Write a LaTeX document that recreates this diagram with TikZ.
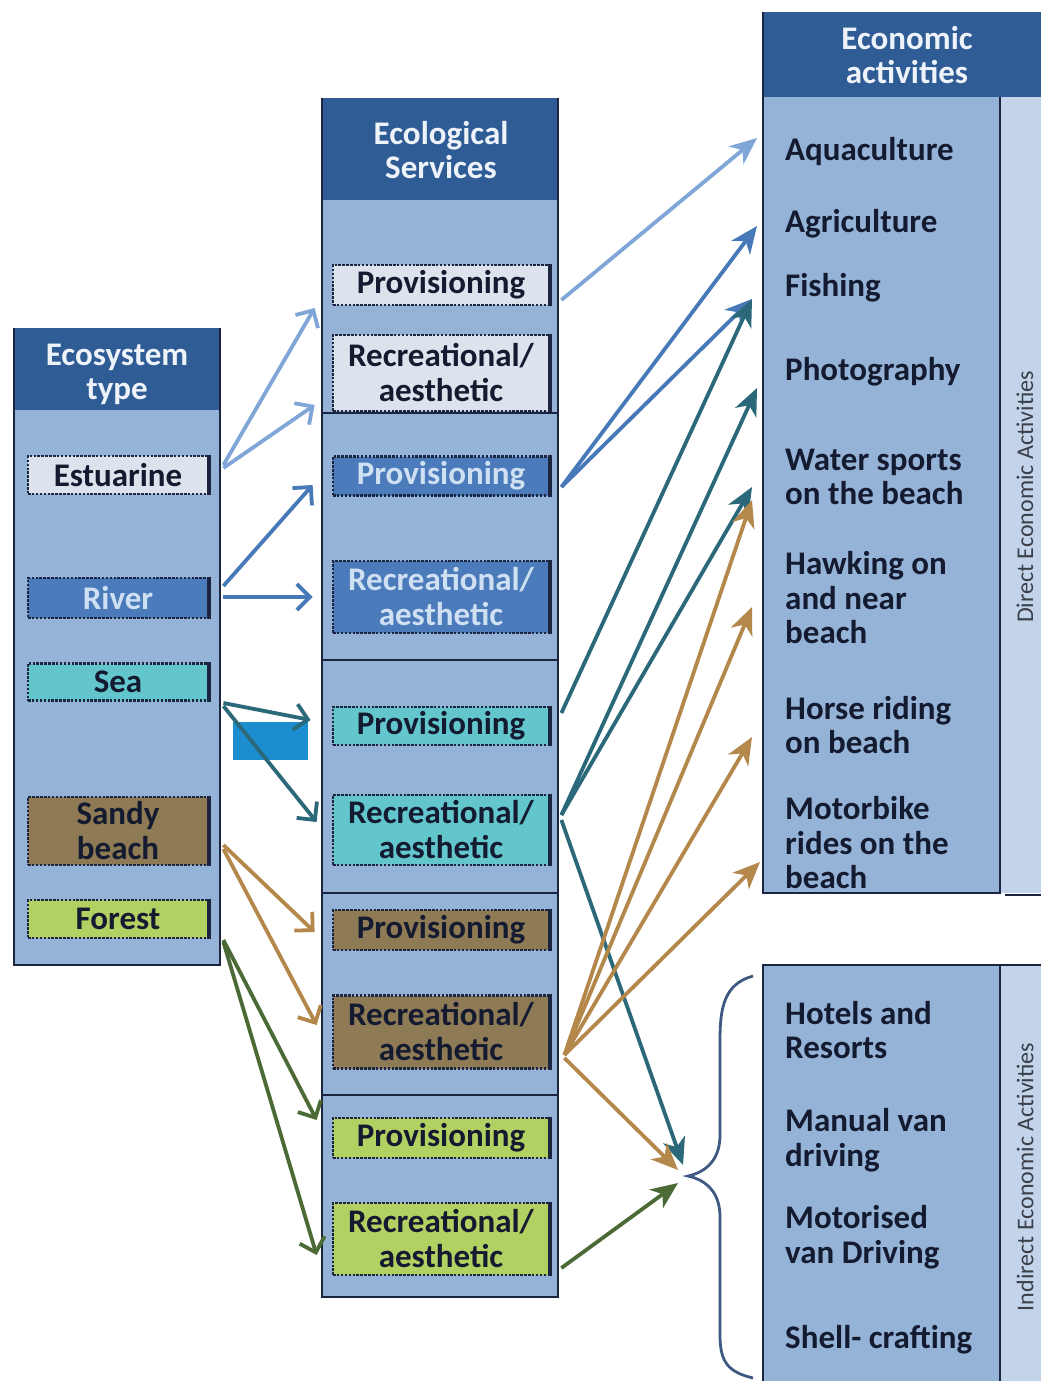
\documentclass[tikz,border=0pt]{standalone}
\usepackage{fontspec}
\setmainfont{Carlito}
\usetikzlibrary{arrows.meta,calc}

% palette
\definecolor{hdr}{HTML}{2F5C95}
\definecolor{hdrtext}{HTML}{EEF3FA}
\definecolor{body}{HTML}{95B3D7}
\definecolor{strip}{HTML}{C3D4EA}
\definecolor{frame}{HTML}{1C2540}
\definecolor{ink}{HTML}{141B30}
\definecolor{sidetext}{HTML}{3A3F4A}
\definecolor{estF}{HTML}{DCE3EC}
\definecolor{rivF}{HTML}{4B7BBA}
\definecolor{rivT}{HTML}{CFE0F2}
\definecolor{seaF}{HTML}{62C6CC}
\definecolor{sandF}{HTML}{8E7A55}
\definecolor{forF}{HTML}{B3D062}
\definecolor{estA}{HTML}{7FA6D7}
\definecolor{rivA}{HTML}{4779B8}
\definecolor{seaA}{HTML}{2B6879}
\definecolor{sandA}{HTML}{B4874A}
\definecolor{forA}{HTML}{4B6A36}
\definecolor{braceC}{HTML}{3E5A82}
\definecolor{spot}{HTML}{1C8ED0}

\tikzset{
  colhead/.style={text=hdrtext, font=\fontsize{33}{34}\selectfont\bfseries, align=center, inner sep=0pt},
  boxbase/.style={draw=frame, line width=2.8pt, dash pattern=on 2.5pt off 1.4pt, align=center,
                  inner sep=0pt, font=\fontsize{33}{35}\selectfont\bfseries, text=ink},
  ecobox/.style={boxbase, minimum width=180pt},
  svcbox/.style={boxbase, minimum width=216pt},
  act/.style={anchor=west, align=left, inner sep=0pt, font=\fontsize{33}{34.5}\selectfont\bfseries, text=ink},
  side/.style={rotate=90, inner sep=0pt, font=\fontsize{24}{26}\selectfont, text=sidetext},
  colframe/.style={draw=frame, line width=2.5pt},
  lk/.style={line width=3.8pt, -{Straight Barb[length=13pt,width=26pt,line width=3.8pt]}},
  rk/.style={line width=3.8pt, -{Stealth[length=27pt,width=23pt,inset=8pt]}}
}

\begin{document}
\begin{tikzpicture}[x=1pt,y=-1pt]
\useasboundingbox (0,0) rectangle (1041,1381);
\fill[white] (0,0) rectangle (1041,1381);

% ---- column: ecosystem type
\fill[body] (14,410) rectangle (220,965);
\fill[hdr] (14,328) rectangle (220,410);
\draw[colframe] (14,328) -- (14,965) -- (220,965) -- (220,328);
\node[colhead] (ecoH) at (117,374) {Ecosystem\\type};

% ---- column: ecological services
\fill[body] (322,200) rectangle (558,1297);
\fill[hdr] (322,98) rectangle (558,200);
\draw[colframe] (322,98) -- (322,1297) -- (558,1297) -- (558,98);
\foreach \yy in {413,660,893,1095} \draw[colframe] (322,\yy) -- (558,\yy);
\node[colhead] (svcH) at (441,150) {Ecological\\Services};

% ---- column: economic activities
\fill[hdr] (763,12) rectangle (1041,97);
\fill[body] (763,97) rectangle (1000,893);
\fill[strip] (1000,97) rectangle (1041,893);
\fill[body] (763,965) rectangle (1000,1381);
\fill[strip] (1000,965) rectangle (1041,1381);
\draw[colframe] (763,12) -- (763,893) -- (1000,893) -- (1000,97);
\draw[colframe] (1005,895) -- (1041,895);
\draw[colframe] (763,1381) -- (763,965) -- (1041,965);
\draw[colframe] (1000,965) -- (1000,1381);
\node[colhead] (actH) at (907,55) {Economic\\activities};
\node[side] (directL) at (1025,497) {Direct Economic Activities};
\node[side] (indirectL) at (1025,1177) {Indirect Economic Activities};

% ---- ecosystem boxes
\node[ecobox, fill=estF, minimum height=38pt] (est) at (118,475) {Estuarine};
\node[ecobox, fill=rivF, minimum height=40pt, text=rivT] (riv) at (118,598) {River};
\node[ecobox, fill=seaF, minimum height=37pt] (sea) at (118,682) {Sea};
\node[ecobox, fill=sandF, minimum height=68pt] (sand) at (118,831) {Sandy\\beach};
\node[ecobox, fill=forF, minimum height=38pt] (fore) at (118,919) {Forest};

% ---- service boxes
\node[svcbox, fill=estF, minimum height=40pt] (pe) at (441,285) {Provisioning};
\node[svcbox, fill=estF, minimum height=76pt] (re) at (441,373) {Recreational/\\aesthetic};
\node[svcbox, fill=rivF, minimum height=39pt, text=rivT] (pr) at (441,476) {Provisioning};
\node[svcbox, fill=rivF, minimum height=72pt, text=rivT] (rr) at (441,597) {Recreational/\\aesthetic};
\node[svcbox, fill=seaF, minimum height=38pt] (ps) at (441,726) {Provisioning};
\node[svcbox, fill=seaF, minimum height=70pt] (rs) at (441,830) {Recreational/\\aesthetic};
\node[svcbox, fill=sandF, minimum height=40pt] (psd) at (441,930) {Provisioning};
\node[svcbox, fill=sandF, minimum height=73pt] (rsd) at (441,1032) {Recreational/\\aesthetic};
\node[svcbox, fill=forF, minimum height=40pt] (pf) at (441,1138) {Provisioning};
\node[svcbox, fill=forF, minimum height=72pt] (rf) at (441,1239) {Recreational/\\aesthetic};

% heavy right edge on every box
\foreach \n in {est,riv,sea,sand,fore,pe,re,pr,rr,ps,rs,psd,rsd,pf,rf}
  \draw[frame, line width=4pt] (\n.north east) -- (\n.south east);

% ---- activities
\node[act] (aqua) at (785,152) {Aquaculture};
\node[act] (agri) at (785,224) {Agriculture};
\node[act] (fish) at (785,288) {Fishing};
\node[act] (photo) at (785,372) {Photography};
\node[act] (water) at (785,477) {Water sports\\on the beach};
\node[act] (hawk) at (785,598) {Hawking on\\and near\\beach};
\node[act] (horse) at (785,725) {Horse riding\\on beach};
\node[act] (moto) at (785,843) {Motorbike\\rides on the\\beach};
\node[act] (hotel) at (785,1030) {Hotels and\\Resorts};
\node[act] (manual) at (785,1140) {Manual van\\driving};
\node[act] (motor) at (785,1237) {Motorised\\van Driving};
\node[act] (shell) at (785,1340) {Shell- crafting};

% brace grouping the indirect activities
\coordinate (bt) at (688,1176);
\draw[braceC, line width=2.8pt] (753,976) .. controls (724,984) and (720,1008) .. (720,1040)
  -- (720,1135) .. controls (720,1160) and (706,1172) .. (bt)
  .. controls (706,1180) and (720,1192) .. (720,1217)
  -- (720,1335) .. controls (720,1362) and (728,1372) .. (753,1378);

% small marker block
\fill[spot] (233,722) rectangle (308,760);

% arrow entry points on the activity side
\coordinate (aquaIn) at ($(aqua.west)+(-28,-14)$);
\coordinate (agriIn) at ($(agri.west)+(-28,2)$);
\coordinate (fishIn) at ($(fish.west)+(-33,11)$);
\coordinate (photoIn) at ($(photo.west)+(-28,16)$);
\coordinate (waterIn) at ($(water.west)+(-33,10)$);
\coordinate (waterInB) at ($(water.west)+(-33,23)$);
\coordinate (hawkIn) at ($(hawk.west)+(-33,9)$);
\coordinate (horseIn) at ($(horse.west)+(-33,12)$);
\coordinate (motoIn) at ($(moto.west)+(-25,19)$);

% ---- ecosystem -> service
\draw[lk, estA] ($(est.east)+(14,-10)$) -- ($(pe.west)+(-17,23)$);
\draw[lk, estA] ($(est.east)+(14,-7)$) -- ($(re.west)+(-17,32)$);
\draw[lk, rivA] ($(riv.east)+(14,-12)$) -- ($(pr.west)+(-19,9)$);
\draw[lk, rivA] ($(riv.east)+(14,-1)$) -- ($(rr.west)+(-19,0)$);
\draw[lk, seaA] ($(sea.east)+(14,21)$) -- ($(ps.west)+(-21,-6)$);
\draw[lk, seaA] ($(sea.east)+(14,24)$) -- ($(rs.west)+(-15,-8)$);
\draw[lk, sandA] ($(sand.east)+(14,14)$) -- ($(psd.west)+(-17,2)$);
\draw[lk, sandA] ($(sand.east)+(14,18)$) -- ($(rsd.west)+(-15,-7)$);
\draw[lk, forA] ($(fore.east)+(14,21)$) -- ($(pf.west)+(-15,-18)$);
\draw[lk, forA] ($(fore.east)+(14,23)$) -- ($(rf.west)+(-15,16)$);

% ---- service -> activity
\draw[rk, estA] ($(pe.east)+(11,15)$) -- (aquaIn);
\draw[rk, rivA] ($(pr.east)+(11,11)$) -- (agriIn);
\draw[rk, rivA] ($(pr.east)+(11,11)$) -- (fishIn);
\draw[rk, seaA] ($(ps.east)+(11,-13)$) -- (fishIn);
\draw[rk, seaA] ($(rs.east)+(11,-15)$) -- (photoIn);
\draw[rk, seaA] ($(rs.east)+(11,-15)$) -- (waterIn);
\draw[rk, seaA] ($(rs.east)+(11,-10)$) -- ($(bt)+(-5,-11)$);
\draw[rk, sandA] ($(rsd.east)+(14,23)$) -- (waterInB);
\draw[rk, sandA] ($(rsd.east)+(14,23)$) -- (hawkIn);
\draw[rk, sandA] ($(rsd.east)+(14,23)$) -- (horseIn);
\draw[rk, sandA] ($(rsd.east)+(14,23)$) -- (motoIn);
\draw[rk, sandA] ($(rsd.east)+(14,26)$) -- ($(bt)+(-10,-6)$);
\draw[rk, forA] ($(rf.east)+(11,29)$) -- ($(bt)+(-10,7)$);
\end{tikzpicture}
\end{document}
